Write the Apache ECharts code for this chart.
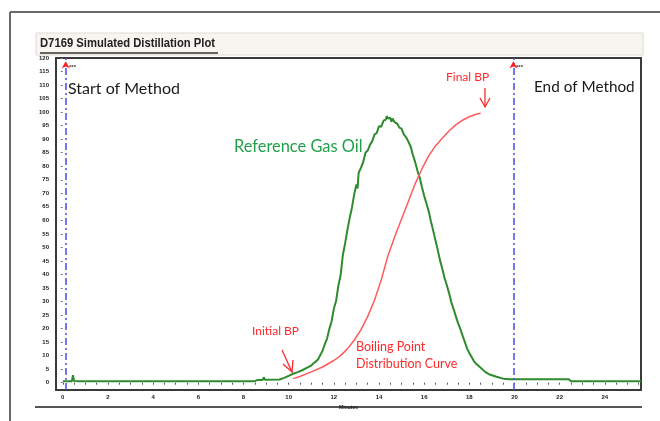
<!DOCTYPE html>
<html><head><meta charset="utf-8">
<script src="https://cdn.jsdelivr.net/npm/echarts@6/dist/echarts.min.js"></script>
<style>html,body{margin:0;padding:0;background:#fff}#c{width:660px;height:421px}</style>
</head><body><div id="c"></div>
<script>
// Data (minutes, response %)
var gasOilX = [0,0.4,0.45,0.5,0.75,0.78,0.82,8.5,8.6,8.85,8.9,8.95,9.6,9.8,10.0,10.2,10.4,10.6,10.8,11.0,11.1,11.2,11.3,11.4,11.5,11.6,11.7,11.8,11.9,12.0,12.1,12.2,12.3,12.4,12.5,12.6,12.7,12.8,12.9,13.0,13.05,13.1,13.2,13.3,13.4,13.5,13.6,13.7,13.8,13.9,14.0,14.1,14.2,14.3,14.35,14.4,14.5,14.55,14.6,14.7,14.8,14.9,15.0,15.1,15.2,15.3,15.4,15.5,15.6,15.7,15.8,15.9,16.0,16.1,16.2,16.3,16.4,16.5,16.6,16.7,16.8,16.9,17.0,17.1,17.2,17.3,17.4,17.5,17.6,17.7,17.8,17.9,18.0,18.1,18.2,18.3,18.5,18.7,18.9,19.2,19.5,19.8,22.4,22.5,25.6];
var gasOilY = [0.5,0.5,2.8,0.6,0.5,1.2,0.5,0.5,1.0,1.0,2.0,1.1,1.2,1.8,2.5,3.3,3.9,4.6,5.5,6.3,7.2,7.8,8.6,10.2,11.8,14.2,16.3,19.8,22.6,27.3,30.2,35.8,39.6,47.2,51.5,56.4,60.8,64.6,69.5,73.3,71.8,77.6,79.4,81.5,85.0,85.8,87.9,89.2,91.7,92.3,94.8,94.6,96.8,97.2,98.5,97.6,97.9,96.4,97.6,96.2,95.8,94.3,93.9,91.8,90.7,89.1,87.3,84.2,81.6,78.4,75.9,72.3,69.1,66.2,63.4,59.6,56.2,52.6,49.1,45.3,42.2,38.8,36.1,33.2,29.8,27.3,24.6,22.0,19.9,17.4,15.1,12.6,11.0,9.5,8.0,7.0,5.5,4.0,3.0,2.2,1.5,1.3,1.3,0.5,0.5];
var bpX = [10.2,10.5,11.0,11.5,12.0,12.3,12.6,12.9,13.2,13.5,13.8,14.1,14.4,14.7,15.0,15.3,15.6,15.9,16.2,16.5,16.8,17.1,17.4,17.7,18.0,18.3,18.5];
var bpY = [1.5,2.3,4.0,5.8,8.2,10.0,12.5,15.7,19.5,24.5,30.5,38.0,47.0,54.0,60.5,67.0,73.5,79.0,83.8,87.5,90.3,93.0,95.3,97.0,98.3,99.2,99.6];
var methodStart = 0.13, methodEnd = 19.95;
var yTicks = [0,5,10,15,20,25,30,35,40,45,50,55,60,65,70,75,80,85,90,95,100,105,110,115,120];
var xTicks = [0,2,4,6,8,10,12,14,16,18,20,22,24];

function pairs(xs, ys){ return xs.map(function(x,i){ return [x, ys[i]]; }); }
var minorX = []; for (var t = 0; t <= 25.5; t += 0.5) minorX.push(t);

var chart = echarts.init(document.getElementById('c'), null, {renderer:'canvas'});
var F = 'Lato, "Open Sans", sans-serif';
chart.setOption({
  animation:false,
  backgroundColor:'#fff',
  grid:{left:56,right:19,top:58,bottom:31,show:true,borderColor:'#3a3a3a',borderWidth:2,backgroundColor:'#fff'},
  xAxis:{type:'value',min:-0.3,max:25.6,
    name:'Minutes',nameLocation:'middle',nameGap:13,nameTextStyle:{fontSize:5,color:'#222',fontWeight:'bold'},
    axisLine:{show:false},splitLine:{show:false},
    axisTick:{show:true,customValues:minorX,length:2,lineStyle:{color:'#555',width:1}},
    axisLabel:{customValues:xTicks,fontSize:6,fontWeight:'bold',color:'#222',margin:4}},
  yAxis:{type:'value',min:-2.7,max:120,
    axisLine:{show:false},splitLine:{show:false},
    axisTick:{show:true,customValues:yTicks,length:2,lineStyle:{color:'#777'}},
    axisLabel:{customValues:yTicks,fontSize:6,fontWeight:'bold',color:'#222',margin:7}},
  series:[
    {type:'line',data:pairs(gasOilX,gasOilY),showSymbol:false,symbol:'none',
     lineStyle:{color:'#2e8b2e',width:2},z:3,
     markLine:{silent:true,symbol:['none','none'],label:{show:false},
       lineStyle:{color:'#4a4ae8',width:1.5,type:[7,3,2,3]},
       data:[{xAxis:methodStart},{xAxis:methodEnd}]},
     markPoint:{symbol:'arrow',symbolSize:[6,7],itemStyle:{color:'#ff2020'},label:{show:false},
       data:[{coord:[methodStart,118.8]},{coord:[methodEnd,118.8]}]}
    },
    {type:'line',data:pairs(bpX,bpY),showSymbol:false,symbol:'none',
     lineStyle:{color:'#ff5a5a',width:1.5},z:4}
  ],
  graphic:[
    {type:'line',shape:{x1:10,y1:12,x2:660,y2:12},style:{stroke:'#6a6a6a',lineWidth:2}},
    {type:'line',shape:{x1:10,y1:12,x2:10,y2:421},style:{stroke:'#6a6a6a',lineWidth:2}},
    {type:'line',shape:{x1:35,y1:407,x2:642,y2:407},style:{stroke:'#555',lineWidth:2}},
    {type:'rect',shape:{x:36,y:33,width:607,height:22},style:{fill:'#f8f5f0',stroke:'#dedad4',lineWidth:1}},
    {type:'text',x:40,y:37,scaleX:0.9,style:{text:'D7169 Simulated Distillation Plot',font:'bold 12.5px "Liberation Sans", sans-serif',fill:'#222'}},
    {type:'line',shape:{x1:40,y1:53,x2:218,y2:53},style:{stroke:'#333',lineWidth:1.5}},
    {type:'text',left:69,top:64,style:{text:'***',font:'bold 6px sans-serif',fill:'#333'}},
    {type:'text',left:516,top:64,style:{text:'***',font:'bold 6px sans-serif',fill:'#333'}},
    {type:'text',left:68,top:81,style:{text:'Start of Method',font:'16px '+F,fill:'#1a1a1a'}},
    {type:'text',left:534,top:80,style:{text:'End of Method',font:'15.3px '+F,fill:'#1a1a1a'}},
    {type:'text',left:446,top:71,style:{text:'Final BP',font:'12px '+F,fill:'#ff2a2a'}},
    {type:'polyline',shape:{points:[[485,88],[485,107]]},style:{stroke:'#ff2a2a',lineWidth:1.3,fill:null}},
    {type:'polyline',shape:{points:[[480,98],[485,107],[490,98]]},style:{stroke:'#ff2a2a',lineWidth:1.3,fill:null}},
    {type:'text',left:234,top:139,style:{text:'Reference Gas Oil',font:'16.4px '+F,fill:'#22a04a'}},
    {type:'text',left:252,top:325,style:{text:'Initial BP',font:'12px '+F,fill:'#ff2a2a'}},
    {type:'polyline',shape:{points:[[282,350],[292,372]]},style:{stroke:'#ff2a2a',lineWidth:1.3,fill:null}},
    {type:'polyline',shape:{points:[[283,364],[292,372],[293,360]]},style:{stroke:'#ff2a2a',lineWidth:1.3,fill:null}},
    {type:'text',left:356,top:340,style:{text:'Boiling Point',font:'12.5px '+F,fill:'#ff2a2a'}},
    {type:'text',left:356,top:357,style:{text:'Distribution Curve',font:'12.5px '+F,fill:'#ff2a2a'}}
  ]
});
</script></body></html>
